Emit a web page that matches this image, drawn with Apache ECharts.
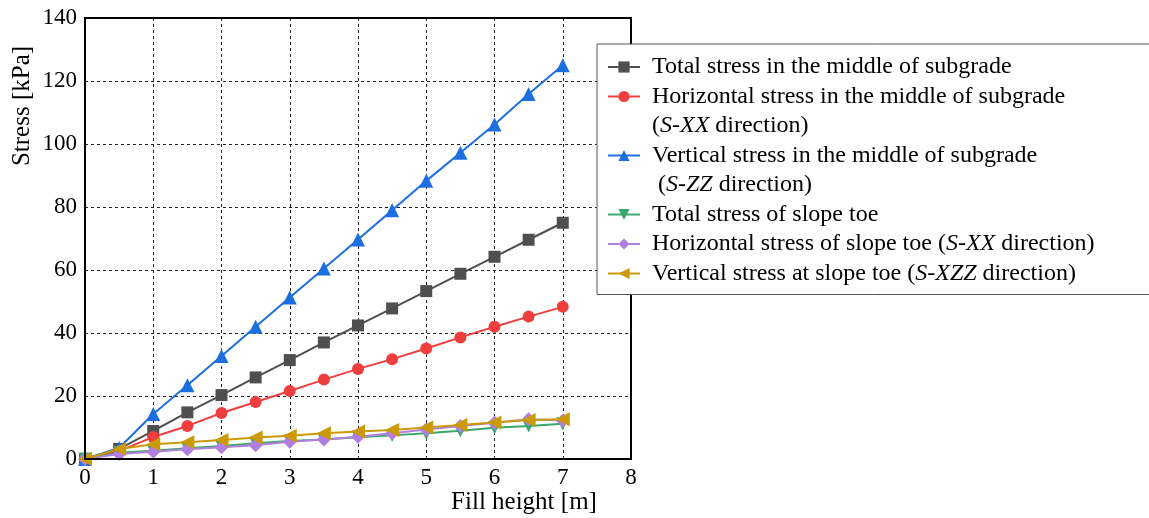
<!DOCTYPE html>
<html>
<head>
<meta charset="utf-8">
<script src="https://cdn.jsdelivr.net/npm/echarts@6/dist/echarts.min.js"></script>
<style>
  html, body { margin: 0; padding: 0; background: #fff; }
  #chart { width: 1149px; height: 518px; }
</style>
</head>
<body>
<div id="chart"></div>
<script>
// fill height [m]
const fillHeight = [0, 0.5, 1, 1.5, 2, 2.5, 3, 3.5, 4, 4.5, 5, 5.5, 6, 6.5, 7]

// stress [kPa]
const totalMiddle = [0, 3.2, 8.9, 14.8, 20.3, 25.9, 31.4, 37.0, 42.4, 47.8, 53.3, 58.8, 64.2, 69.6, 75.0]
const horizMiddle = [0, 2.5, 7.0, 10.5, 14.6, 18.1, 21.6, 25.2, 28.6, 31.7, 35.1, 38.6, 42.0, 45.2, 48.3]
const vertMiddle = [0, 3.5, 14.3, 23.4, 32.7, 42.0, 51.3, 60.5, 69.7, 79.0, 88.3, 97.2, 106.2, 115.9, 125.0]
const totalToe = [0, 2.0, 2.6, 3.4, 4.1, 5.0, 5.7, 6.2, 6.9, 7.5, 8.2, 9.0, 9.9, 10.5, 11.2]
const horizToe = [0, 1.6, 2.3, 3.1, 3.7, 4.4, 5.5, 6.2, 7.1, 8.2, 9.4, 10.5, 11.5, 12.6, 12.2]
const vertToe = [0, 3.2, 4.7, 5.3, 6.0, 6.8, 7.4, 8.2, 8.7, 9.2, 10.0, 10.8, 11.6, 12.4, 12.6]

const seriesNames = [
  'Total stress in the middle of subgrade',
  'Horizontal stress in the middle of subgrade',
  'Vertical stress in the middle of subgrade',
  'Total stress of slope toe',
  'Horizontal stress of slope toe (S-XX direction)',
  'Vertical stress at slope toe (S-XZZ direction)'
]
// second lines of the two long legend entries
const secondLines = ['(S-XX direction)', ' (S-ZZ direction)']

const xTicks = { min: 0, max: 8, interval: 1 }
const yTicks = { min: 0, max: 140, interval: 20 }

const font = 'Liberation Serif'
const colors = ['#4f4f4f', '#f03d3d', '#1c6fe0', '#3aa76d', '#b07fe0', '#cc9a06']
const symbols = ['rect', 'circle', 'triangle', 'triangle', 'diamond', 'triangle']
const rotations = [0, 0, 0, 180, 0, 90]
const sizes = [12, 12, 14, 13, 14, 14]
const values = [totalMiddle, horizMiddle, vertMiddle, totalToe, horizToe, vertToe]

function pairs(ys) {
  return ys.map((y, i) => [fillHeight[i], y])
}

// italic S, XX, ZZ ... like the latex labels
function richName(name) {
  return name.replace(/S-([XZ]+)/g, '{i|S}-{i|$1}')
}

var myChart = echarts.init(document.getElementById('chart'), null, { renderer: 'canvas' })

var series = values.map((ys, k) => {
  return {
    name: seriesNames[k],
    type: 'line',
    data: pairs(ys),
    symbol: symbols[k],
    symbolSize: sizes[k],
    symbolRotate: rotations[k],
    showAllSymbol: true,
    clip: false,
    z: 3 + k,
    lineStyle: { color: colors[k], width: 2 },
    itemStyle: { color: colors[k] },
    emphasis: { disabled: true },
    animation: false
  }
})

// empty entries that only carry the wrapped legend lines
secondLines.forEach(name => {
  series.push({ name: name, type: 'line', data: [], animation: false })
})

var legendData = [
  seriesNames[0],
  seriesNames[1],
  { name: secondLines[0], icon: 'none' },
  seriesNames[2],
  { name: secondLines[1], icon: 'none' },
  seriesNames[3],
  seriesNames[4],
  seriesNames[5]
]

const option = {
  animation: false,
  grid: {
    left: 85,
    right: 518,
    top: 18,
    bottom: 59,
    show: true,
    borderColor: '#000',
    borderWidth: 2,
    z: 10
  },
  xAxis: {
    type: 'value',
    min: xTicks.min,
    max: xTicks.max,
    interval: xTicks.interval,
    axisLine: { show: true, lineStyle: { color: '#000', width: 2 } },
    axisTick: { show: false },
    axisLabel: { color: '#000', fontFamily: font, fontSize: 23, margin: 7 },
    splitLine: { show: true, lineStyle: { color: '#222', width: 1, type: [3, 3] } }
  },
  yAxis: {
    type: 'value',
    min: yTicks.min,
    max: yTicks.max,
    interval: yTicks.interval,
    axisLine: { show: true, lineStyle: { color: '#000', width: 2 } },
    axisTick: { show: false },
    axisLabel: { color: '#000', fontFamily: font, fontSize: 23, margin: 8 },
    splitLine: { show: true, lineStyle: { color: '#222', width: 1, type: [3, 3] } }
  },
  legend: {
    orient: 'vertical',
    left: 597,
    top: 44,
    padding: [11, 80, 9, 10],
    itemGap: 5.5,
    itemWidth: 32,
    itemHeight: 14,
    backgroundColor: '#fff',
    borderColor: '#555',
    borderWidth: 1,
    borderRadius: 0,
    selectedMode: false,
    data: legendData,
    formatter: richName,
    textStyle: {
      color: '#000',
      fontFamily: font,
      fontSize: 24,
      lineHeight: 24,
      padding: [0, 0, 0, 7],
      rich: {
        i: { fontFamily: font, fontSize: 24, fontStyle: 'italic', color: '#000', lineHeight: 24 }
      }
    },
    z: 20
  },
  graphic: [
    {
      type: 'text',
      x: 524,
      y: 502,
      style: { text: 'Fill height [m]', font: '25px "Liberation Serif"', fill: '#000', align: 'center', verticalAlign: 'middle' }
    },
    {
      type: 'text',
      x: 22,
      y: 106,
      rotation: Math.PI / 2,
      style: { text: 'Stress [kPa]', font: '25px "Liberation Serif"', fill: '#000', align: 'center', verticalAlign: 'middle' }
    }
  ],
  series: series
}

myChart.setOption(option)
</script>
</body>
</html>
